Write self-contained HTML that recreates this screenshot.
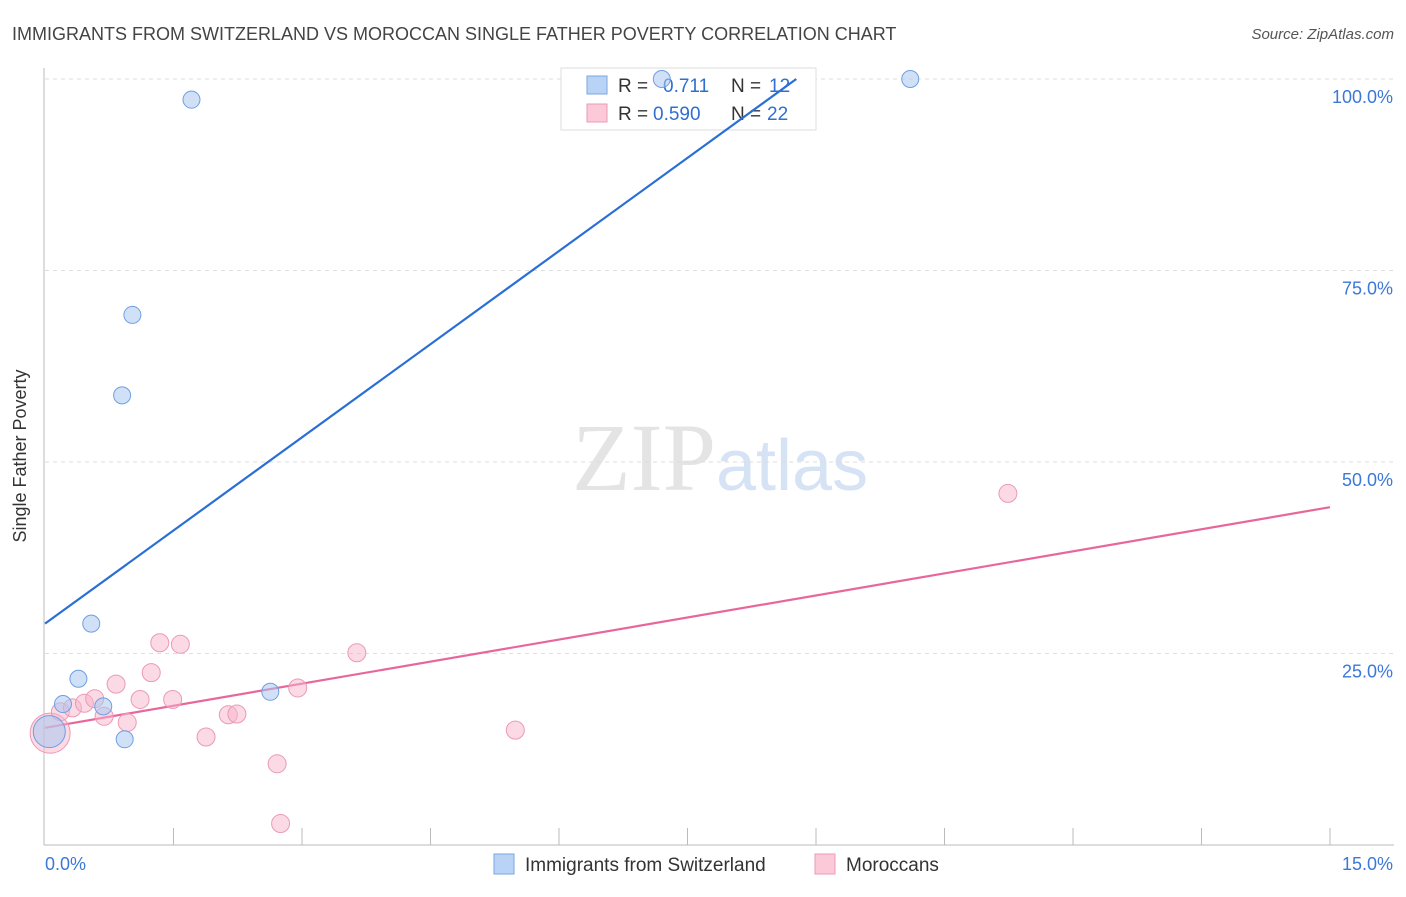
<!DOCTYPE html>
<html><head><meta charset="utf-8"><style>
body{margin:0;background:#fff;font-family:"Liberation Sans",sans-serif}
svg text{font-family:"Liberation Sans",sans-serif}
</style></head><body>
<svg id="chart" width="1406" height="892">
<text x="12" y="40" font-size="18" fill="#444">IMMIGRANTS FROM SWITZERLAND VS MOROCCAN SINGLE FATHER POVERTY CORRELATION CHART</text>
<text x="1394" y="39" font-size="15" fill="#555" font-style="italic" text-anchor="end">Source: ZipAtlas.com</text>
<text x="26" y="456" font-size="18" fill="#333" transform="rotate(-90 26 456)" text-anchor="middle">Single Father Poverty</text>
<text x="716" y="490" font-size="96" fill="#e4e4e4" text-anchor="end" style="font-family:'Liberation Serif',serif">ZIP</text>
<text x="716" y="490" font-size="72" fill="#d5e3f5">atlas</text>
<g id="grid"></g><g id="axes"></g>
<g>
<rect x="561" y="68" width="255" height="62" fill="#fff" stroke="#ddd"/>
<rect x="587" y="76" width="20" height="18" fill="#b8d3f5" stroke="#7aa6e0"/>
<text x="618" y="92" font-size="19" fill="#333">R =</text><text x="663" y="92" font-size="19" fill="#2f6fd0">0.711</text>
<text x="731" y="92" font-size="19" fill="#333">N =</text><text x="769" y="92" font-size="19" fill="#2f6fd0">12</text>
<rect x="587" y="104" width="20" height="18" fill="#fbc9d8" stroke="#eb9ab4"/>
<text x="618" y="120" font-size="19" fill="#333">R =</text><text x="653" y="120" font-size="19" fill="#2f6fd0">0.590</text>
<text x="731" y="120" font-size="19" fill="#333">N =</text><text x="767" y="120" font-size="19" fill="#2f6fd0">22</text>
</g>
<g id="lines"></g><g id="pts"></g>
<g>
<rect x="494" y="854" width="20" height="20" fill="#b8d3f5" stroke="#7aa6e0"/>
<text x="525" y="871" font-size="19" fill="#333">Immigrants from Switzerland</text>
<rect x="815" y="854" width="20" height="20" fill="#fbc9d8" stroke="#eb9ab4"/>
<text x="846" y="871" font-size="19" fill="#333">Moroccans</text>
</g>
</svg>
<script>
const xTicks=[0,15];
const yTicks=[25,50,75,100];
const blueX=[1.71,7.2,10.1,1.02,0.9,0.54,0.39,0.21,0.68,0.93,2.63,0.05];
const blueY=[97.3,100,100,69.2,58.7,28.9,21.7,18.4,18.1,13.8,20.0,14.8];
const pinkX=[0.06,0.18,0.32,0.46,0.58,0.69,0.83,0.96,1.11,1.24,1.34,1.49,1.58,1.88,2.14,2.24,2.71,2.75,2.95,3.64,5.49,11.24];
const pinkY=[14.6,17.4,17.9,18.5,19.1,16.8,21.0,16.0,19.0,22.5,26.4,19.0,26.2,14.1,17.0,17.1,10.6,2.8,20.5,25.1,15.0,45.9];
const blueLine=[0,28.9,8.77,100];
const pinkLine=[0,15.3,15,44.1];
const X=v=>45+v/15*1285, Y=v=>845-v/100*766;
const NS="http://www.w3.org/2000/svg";
function mk(p,t,a){const e=document.createElementNS(NS,t);for(const k in a)e.setAttribute(k,a[k]);document.getElementById(p).appendChild(e);return e;}
yTicks.forEach(t=>{
const g=mk('grid','line',{x1:45,x2:1394,y1:Y(t),y2:Y(t),stroke:'#ddd','stroke-dasharray':'4,4'});


const l=mk('axes','text',{x:1393,y:Y(t)+24,'font-size':18,fill:'#3b78d8','text-anchor':'end'});l.textContent=t.toFixed(1)+'%';


});
const ax=mk('axes','line',{x1:44,x2:1394,y1:845,y2:845,stroke:'#bbb'});


const ay=mk('axes','line',{x1:44,x2:44,y1:68,y2:845,stroke:'#bbb'});


for(let i=1;i<=10;i++){const t=mk('axes','line',{x1:X(i*1.5),x2:X(i*1.5),y1:828,y2:845,stroke:'#bbb'});

}
xTicks.forEach((t,i)=>{const l=mk('axes','text',{x:i?1393:45,y:870,'font-size':18,fill:'#3b78d8','text-anchor':i?'end':'start'});l.textContent=t.toFixed(1)+'%';

});
const bl=mk('lines','line',{x1:X(blueLine[0]),y1:Y(blueLine[1]),x2:X(blueLine[2]),y2:Y(blueLine[3]),stroke:'#2a6fd6','stroke-width':2.2});


const pl=mk('lines','line',{x1:X(pinkLine[0]),y1:Y(pinkLine[1]),x2:X(pinkLine[2]),y2:Y(pinkLine[3]),stroke:'#e8679a','stroke-width':2.2});


pinkX.forEach((x,i)=>{const c=mk('pts','circle',{cx:X(x),cy:Y(pinkY[i]),r:i==0?20:9,fill:'rgba(248,180,203,0.5)',stroke:'#eb9ab4','stroke-width':1});

});
blueX.forEach((x,i)=>{const c=mk('pts','circle',{cx:X(x),cy:Y(blueY[i]),r:i==11?16:8.5,fill:'rgba(170,200,240,0.55)',stroke:'#6f9fe0','stroke-width':1});

});
</script>
</body></html>
